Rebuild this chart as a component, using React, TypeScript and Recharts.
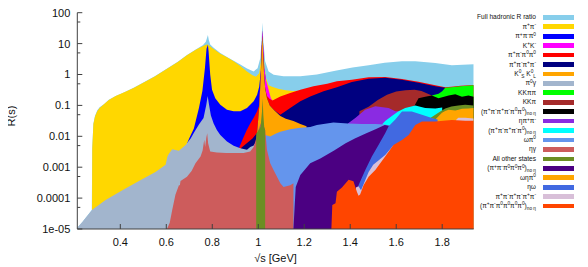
import React from 'react';
import { ComposedChart, Area, XAxis, YAxis } from 'recharts';

type Pt = [number, number];

// Cumulative top boundary of each contribution (sqrt(s) in GeV, R value)
const fullR: Pt[] = [
  [0.213, 1.1e-5], [0.235, 1.7e-5], [0.276, 4.1e-5], [0.278, 0.004], [0.283, 0.026], [0.29, 0.046],
  [0.3, 0.07], [0.31, 0.087], [0.33, 0.112], [0.35, 0.152], [0.38, 0.2], [0.42, 0.27], [0.46, 0.38],
  [0.5, 0.55], [0.55, 0.88], [0.6, 1.5], [0.65, 2.6], [0.69, 4.3], [0.73, 6.6], [0.76, 9], [0.772, 11.5],
  [0.778, 16], [0.781, 19], [0.785, 13], [0.791, 9.4], [0.806, 7.3], [0.835, 5.0], [0.864, 3.7],
  [0.893, 2.8], [0.922, 2.1], [0.951, 1.55], [0.98, 1.26], [0.997, 1.6], [1.009, 3.4], [1.014, 12],
  [1.018, 48], [1.022, 12], [1.03, 2.7], [1.045, 1.26], [1.067, 0.99], [1.11, 0.87], [1.183, 0.87],
  [1.255, 1.0], [1.335, 1.32], [1.41, 1.7], [1.48, 2.0], [1.55, 2.4], [1.625, 2.7], [1.683, 2.7],
  [1.77, 2.35], [1.842, 2.0], [1.937, 2.15],
];
const pipi: Pt[] = [
  [0.277, 4.1e-5], [0.278, 0.004], [0.283, 0.025], [0.29, 0.044], [0.3, 0.066], [0.31, 0.083],
  [0.33, 0.11], [0.35, 0.15], [0.38, 0.2], [0.42, 0.27], [0.46, 0.37], [0.5, 0.54], [0.55, 0.86],
  [0.6, 1.48], [0.65, 2.55], [0.69, 4.2], [0.73, 6.4], [0.76, 8.4], [0.772, 9.2], [0.78, 9.4],
  [0.786, 8.6], [0.8, 7.2], [0.835, 4.7], [0.864, 3.6], [0.893, 2.7], [0.922, 1.9], [0.951, 1.26],
  [0.975, 0.95], [0.99, 0.85], [1.004, 1.1], [1.011, 2.5], [1.016, 12], [1.019, 27], [1.021, 9.5],
  [1.026, 2.2], [1.034, 0.75], [1.045, 0.45], [1.06, 0.4], [1.09, 0.34], [1.12, 0.31], [1.15, 0.29],
  [1.17, 0.3],
];
const pi3: Pt[] = [
  [0.69, 0.0058], [0.7, 0.0087], [0.72, 0.018], [0.742, 0.083], [0.757, 0.29], [0.768, 1.6],
  [0.775, 6.8], [0.781, 9.2], [0.784, 5.6], [0.791, 1.0], [0.799, 0.32], [0.813, 0.17], [0.835, 0.105],
  [0.864, 0.072], [0.893, 0.065], [0.922, 0.065], [0.951, 0.083], [0.98, 0.135], [0.995, 0.22],
  [1.004, 0.4], [1.011, 1.2], [1.016, 12], [1.019, 27], [1.021, 9.5], [1.026, 1.6], [1.03, 1.0],
  [1.034, 0.62],
];
const kk: Pt[] = [
  [1.004, 0.12], [1.011, 1.0], [1.016, 12], [1.019, 27], [1.021, 9.5], [1.026, 1.6], [1.03, 1.0],
  [1.034, 0.62], [1.038, 0.5], [1.045, 0.32], [1.055, 0.17], [1.062, 0.145],
];
const pi2pi02: Pt[] = [
  [0.918, 0.0045], [0.935, 0.009], [0.95, 0.016], [0.965, 0.026], [0.98, 0.04], [0.995, 0.065],
  [1.004, 0.1], [1.011, 0.9], [1.016, 9], [1.019, 18], [1.021, 5], [1.026, 0.85], [1.03, 0.36],
  [1.038, 0.2], [1.05, 0.16], [1.062, 0.145], [1.096, 0.195], [1.139, 0.25], [1.183, 0.32],
  [1.24, 0.42], [1.3, 0.5], [1.342, 0.6], [1.407, 0.68], [1.48, 0.81], [1.552, 0.83], [1.625, 0.71],
  [1.697, 0.58], [1.77, 0.45], [1.813, 0.385], [1.84, 0.4], [1.88, 0.43], [1.937, 0.46],
];
const pi4: Pt[] = [
  [0.925, 0.0042], [0.95, 0.006], [0.975, 0.0085], [0.995, 0.013], [1.004, 0.085], [1.011, 0.9],
  [1.016, 9], [1.019, 18], [1.021, 5], [1.026, 0.85], [1.03, 0.36], [1.038, 0.17], [1.05, 0.1],
  [1.067, 0.072], [1.096, 0.05], [1.139, 0.083], [1.183, 0.135], [1.226, 0.195], [1.284, 0.285],
  [1.342, 0.385], [1.407, 0.575], [1.48, 0.73], [1.552, 0.78], [1.625, 0.68], [1.697, 0.54],
  [1.77, 0.42], [1.813, 0.37],
];
const kskl: Pt[] = [
  [0.995, 0.013], [1.004, 0.085], [1.011, 0.9], [1.016, 9], [1.019, 18], [1.021, 5], [1.026, 0.85],
  [1.03, 0.36], [1.038, 0.17], [1.05, 0.1], [1.067, 0.072], [1.096, 0.045], [1.12, 0.037],
  [1.153, 0.031], [1.183, 0.025], [1.21, 0.021],
];
const pi0gamma: Pt[] = [
  [0.213, 1.1e-5], [0.235, 1.7e-5], [0.278, 4.2e-5], [0.336, 8.7e-5], [0.409, 1.8e-4], [0.481, 3.6e-4],
  [0.553, 7e-4], [0.597, 1.2e-3], [0.605, 2.2e-3], [0.612, 2.8e-3], [0.626, 3.8e-3], [0.655, 3.4e-3],
  [0.684, 5.2e-3], [0.706, 8.5e-3], [0.72, 0.013], [0.742, 0.024], [0.762, 0.039], [0.774, 0.105],
  [0.78, 0.2], [0.786, 0.105], [0.794, 0.047], [0.806, 0.026], [0.82, 0.016], [0.835, 0.011],
  [0.864, 0.0068], [0.893, 0.0049], [0.922, 0.0041], [0.951, 0.0037], [0.965, 0.0045], [0.98, 0.005],
  [0.99, 0.0065],
];
const kkpipi: Pt[] = [
  [1.755, 0.21], [1.784, 0.24], [1.8, 0.285], [1.813, 0.37], [1.84, 0.39], [1.88, 0.42], [1.937, 0.45],
];
const kkpi: Pt[] = [
  [1.44, 0.065], [1.48, 0.09], [1.52, 0.15], [1.56, 0.22], [1.6, 0.28], [1.64, 0.31], [1.68, 0.32],
  [1.71, 0.29], [1.755, 0.21],
];
const pi6noEta: Pt[] = [
  [1.68, 0.1], [1.697, 0.17], [1.726, 0.19], [1.755, 0.21], [1.784, 0.17], [1.828, 0.21],
  [1.857, 0.23], [1.886, 0.19], [1.914, 0.21], [1.937, 0.19],
];
const etapipi: Pt[] = [
  [1.39, 0.026], [1.422, 0.039], [1.465, 0.072], [1.509, 0.093], [1.567, 0.083], [1.596, 0.065],
  [1.61, 0.065],
];
const pi5noEta: Pt[] = [
  [1.54, 0.025], [1.552, 0.031], [1.581, 0.045], [1.61, 0.065], [1.639, 0.083], [1.683, 0.1],
  [1.726, 0.083], [1.77, 0.08], [1.8, 0.085],
];
const omegapi0: Pt[] = [
  [1.03, 0.011], [1.052, 0.0098], [1.075, 0.012], [1.096, 0.014], [1.139, 0.017], [1.183, 0.019],
  [1.226, 0.02], [1.255, 0.023], [1.327, 0.028], [1.39, 0.026], [1.45, 0.025], [1.509, 0.025],
  [1.552, 0.024], [1.575, 0.022],
];
const etagamma: Pt[] = [
  [0.603, 1.0e-5], [0.615, 1.6e-5], [0.626, 4.2e-5], [0.64, 1.3e-4], [0.655, 2.6e-4], [0.659, 2.6e-4],
  [0.662, 3.6e-4], [0.69, 4.9e-4], [0.71, 7.5e-4], [0.727, 1.35e-3], [0.749, 2.2e-3], [0.758, 3.5e-3],
  [0.765, 7.8e-3], [0.769, 4.5e-3], [0.774, 9e-3], [0.778, 0.0126], [0.782, 0.006], [0.791, 3.2e-3],
  [0.82, 3.0e-3], [0.86, 2.9e-3], [0.9, 2.9e-3], [0.936, 2.9e-3], [0.965, 3.2e-3], [0.98, 4.5e-3],
  [0.99, 0.008], [1.0, 0.016], [1.009, 0.024], [1.016, 0.03], [1.022, 0.024], [1.03, 0.016],
  [1.038, 3.6e-3], [1.052, 1.35e-3], [1.067, 8e-4], [1.096, 3.0e-4], [1.11, 2.3e-4], [1.139, 2.6e-4],
  [1.153, 3.0e-4],
];
const otherPhi: Pt[] = [
  [0.991, 0.012], [1.0, 0.015], [1.01, 0.02], [1.016, 0.06], [1.019, 0.17], [1.022, 0.05],
  [1.026, 0.02], [1.03, 0.016],
];
const otherHigh: Pt[] = [
  [1.75, 0.04], [1.77, 0.05], [1.8, 0.07], [1.813, 0.08], [1.84, 0.092], [1.87, 0.1], [1.9, 0.105],
  [1.937, 0.1],
];
const pi5noEta3pi0: Pt[] = [
  [1.153, 1.0e-5], [1.158, 5e-5], [1.163, 2.3e-4], [1.183, 5.6e-4], [1.226, 1.35e-3], [1.27, 1.9e-3],
  [1.33, 3.5e-3], [1.38, 6e-3], [1.42, 8.5e-3], [1.465, 0.012], [1.51, 0.017], [1.55, 0.023],
  [1.58, 0.021],
];
const omegaetapi0: Pt[] = [
  [1.75, 0.04], [1.77, 0.035], [1.785, 0.045], [1.799, 0.058], [1.813, 0.066], [1.828, 0.072],
  [1.857, 0.068], [1.871, 0.072], [1.886, 0.078], [1.914, 0.08], [1.937, 0.082],
];
const etaomega: Pt[] = [
  [1.43, 1.3e-4], [1.436, 2.6e-4], [1.465, 8e-4], [1.494, 2.2e-3], [1.523, 5.2e-3], [1.552, 0.0126],
  [1.567, 0.021], [1.596, 0.035], [1.625, 0.063], [1.668, 0.063], [1.712, 0.05], [1.755, 0.039],
  [1.78, 0.035],
];
const sixPiLow: Pt[] = [
  [1.425, 2.2e-4], [1.436, 2.4e-4], [1.447, 1.8e-4], [1.458, 2.8e-4], [1.48, 7e-4], [1.5, 1.2e-3],
  [1.52, 1.6e-3], [1.552, 2.5e-3], [1.59, 5.3e-3],
];
const sixPiHigh: Pt[] = [[1.86, 0.034], [1.87, 0.04], [1.9, 0.04], [1.937, 0.038]];
const pi6noEta4pi0: Pt[] = [
  [1.318, 1.0e-5], [1.322, 6e-5], [1.336, 6.8e-5], [1.342, 1.6e-4], [1.364, 2.2e-4], [1.393, 3.9e-4],
  [1.414, 3.5e-4], [1.429, 1.6e-4], [1.436, 1.2e-4], [1.443, 1.3e-4], [1.458, 2.6e-4], [1.48, 4.9e-4],
  [1.509, 8.1e-4], [1.552, 2.2e-3], [1.588, 5.2e-3], [1.625, 7.6e-3], [1.654, 0.011], [1.683, 0.023],
  [1.712, 0.03], [1.77, 0.03], [1.842, 0.034], [1.9, 0.032], [1.937, 0.032],
];

const legendLabels = [
  'Full hadronic R ratio', 'π^+π^-', 'π^+π^-π^0', 'K^+K^-', 'π^+π^-π^0π^0', 'π^+π^-π^+π^-',
  'K^0_{S} K^0_{L}', 'π^0γ', 'KKππ', 'KKπ', '(π^+π^-π^+π^-π^0π^0)_{no η}', 'ηπ^+π^-',
  '(π^+π^-π^+π^-π^0)_{no η}', 'ωπ^0', 'ηγ', 'All other states', '(π^+π^-π^0π^0π^0)_{no η}',
  'ωηπ^0', 'ηω', 'π^+π^-π^+π^-π^+π^-', '(π^+π^-π^0π^0π^0π^0)_{no η}',
];
const legendColors = [
  '#87CEEB', '#FFD700', '#0000FF', '#FF00FF', '#FF0000', '#000080', '#FFA500', '#A2B5CD', '#00FF00',
  '#A52A2A', '#000000', '#8A2BE2', '#00FFFF', '#6495ED', '#CD5C5C', '#6B8E23', '#4B0082', '#FFA500',
  '#4169E1', '#D8BFD8', '#FF4500',
];

// draw order (back to front): [data, legend index]
const layers: [Pt[], number][] = [
  [fullR, 0], [pipi, 1], [pi3, 2], [kk, 3], [pi2pi02, 4], [pi4, 5], [kskl, 6], [pi0gamma, 7],
  [kkpipi, 8], [kkpi, 9], [pi6noEta, 10], [etapipi, 11], [pi5noEta, 12], [omegapi0, 13],
  [etagamma, 14], [otherPhi, 15], [otherHigh, 15], [pi5noEta3pi0, 16], [omegaetapi0, 17],
  [etaomega, 18], [sixPiLow, 19], [sixPiHigh, 19], [pi6noEta4pi0, 20],
];

const xTicks = [0.4, 0.6, 0.8, 1.0, 1.2, 1.4, 1.6, 1.8];
const xTickLabels = ['0.4', '0.6', '0.8', '1', '1.2', '1.4', '1.6', '1.8'];
const yMajorTicks = [1e-5, 1e-4, 1e-3, 0.01, 0.1, 1, 10, 100];
const yTickLabels = ['1e-05', '0.0001', '0.001', '0.01', '0.1', '1', '10', '100'];
const yMinorTicks = [5e-5, 5e-4, 5e-3, 0.05, 0.5, 5, 50];

const X_DOMAIN: [number, number] = [0.213, 1.937];
const Y_DOMAIN: [number, number] = [1e-5, 100];
const yTicks = [...yMajorTicks, ...yMinorTicks].sort((a, b) => a - b);
const AXIS = '#404040';
const TXT = '#111';

const majorIndex = (v: number) => yMajorTicks.findIndex((t) => Math.abs(t - v) / t < 1e-6);

const LeftTick = (p: any) => {
  const i = majorIndex(p.payload.value);
  return (
    <g>
      <line x1={p.x} x2={p.x + (i >= 0 ? 5 : 3)} y1={p.y} y2={p.y} stroke={AXIS} />
      {i >= 0 && (
        <text x={p.x - 7} y={p.y} dy="0.36em" textAnchor="end" fontSize={11} fill={TXT}>
          {yTickLabels[i]}
        </text>
      )}
    </g>
  );
};
const RightTick = (p: any) => {
  const i = majorIndex(p.payload.value);
  return <line x1={p.x} x2={p.x - (i >= 0 ? 5 : 3)} y1={p.y} y2={p.y} stroke={AXIS} />;
};
const BottomTick = (p: any) => {
  const i = xTicks.findIndex((t) => Math.abs(t - p.payload.value) < 1e-6);
  return (
    <g>
      <line x1={p.x} x2={p.x} y1={p.y} y2={p.y - 5} stroke={AXIS} />
      <text x={p.x} y={p.y + 16.6} textAnchor="middle" fontSize={11} fill={TXT}>
        {xTickLabels[i]}
      </text>
    </g>
  );
};
const TopTick = (p: any) => <line x1={p.x} x2={p.x} y1={p.y} y2={p.y + 5} stroke={AXIS} />;

const YTitle = () => (
  <text x={10.8} y={116} transform="rotate(-90 10.8 116)" textAnchor="middle" dominantBaseline="central" fontSize={11} fill={TXT}>
    R(s)
  </text>
);

function renderLabel(s: string) {
  const out: React.ReactNode[] = [];
  let buf = '';
  let k = 0;
  let i = 0;
  const flush = () => {
    if (buf) {
      out.push(<span key={k++}>{buf}</span>);
      buf = '';
    }
  };
  while (i < s.length) {
    const c = s[i];
    if (c === '^' || c === '_') {
      flush();
      let t = '';
      if (s[i + 1] === '{') {
        const j = s.indexOf('}', i + 2);
        t = s.slice(i + 2, j);
        i = j + 1;
      } else {
        t = s[i + 1];
        i += 2;
      }
      out.push(
        <span key={k++} style={{ fontSize: '0.72em', position: 'relative', top: c === '^' ? '-0.55em' : '0.35em' }}>
          {t}
        </span>
      );
    } else {
      buf += c;
      i++;
    }
  }
  flush();
  return out;
}

export default function App() {
  return (
    <div
      style={{
        position: 'relative',
        width: 588,
        height: 267,
        marginLeft: -8,
        marginTop: -8,
        background: '#fff',
        fontFamily: '"Liberation Sans", Arial, sans-serif',
      }}
    >
      <ComposedChart width={588} height={267} margin={{ top: 12.7, right: 114.3, bottom: 0, left: 0 }}>
        <XAxis
          xAxisId={0}
          type="number"
          dataKey="x"
          domain={X_DOMAIN}
          allowDataOverflow
          ticks={xTicks}
          interval={0}
          height={38}
          tickSize={0}
          tickMargin={0}
          tickLine={false}
          tick={BottomTick}
          axisLine={{ stroke: AXIS }}
          label={{ value: '√s [GeV]', position: 'insideBottom', offset: 5.3, fontSize: 11, fill: TXT }}
        />
        <XAxis
          xAxisId="top"
          orientation="top"
          type="number"
          dataKey="x"
          domain={X_DOMAIN}
          allowDataOverflow
          ticks={xTicks}
          interval={0}
          height={0}
          tickSize={0}
          tickMargin={0}
          tickLine={false}
          tick={TopTick}
          axisLine={{ stroke: AXIS }}
        />
        <YAxis
          yAxisId={0}
          type="number"
          scale="log"
          domain={Y_DOMAIN}
          allowDataOverflow
          ticks={yTicks}
          interval={0}
          width={77.3}
          tickSize={0}
          tickMargin={0}
          tickLine={false}
          tick={LeftTick}
          axisLine={{ stroke: AXIS }}
          label={YTitle}
        />
        <YAxis
          yAxisId="right"
          orientation="right"
          type="number"
          scale="log"
          domain={Y_DOMAIN}
          allowDataOverflow
          ticks={yTicks}
          interval={0}
          width={0}
          tickSize={0}
          tickMargin={0}
          tickLine={false}
          tick={RightTick}
          axisLine={{ stroke: AXIS }}
        />
        {layers.map(([pts, li], idx) => (
          <Area
            key={idx}
            data={pts.map(([x, y]) => ({ x, y }))}
            dataKey="y"
            xAxisId={0}
            yAxisId={0}
            type="linear"
            baseValue={1e-5}
            fill={legendColors[li]}
            fillOpacity={1}
            stroke="none"
            dot={false}
            activeDot={false}
            isAnimationActive={false}
          />
        ))}
      </ComposedChart>
      <div style={{ position: 'absolute', left: 0, top: 0, width: 588, height: 267, pointerEvents: 'none' }}>
        {legendLabels.map((lab, i) => {
          const cy = 17.3 + i * 9.44;
          return (
            <React.Fragment key={i}>
              <div
                style={{
                  position: 'absolute',
                  right: 588 - 536,
                  top: cy - 5,
                  height: 10,
                  lineHeight: '10px',
                  fontSize: 6.6,
                  whiteSpace: 'nowrap',
                  color: TXT,
                }}
              >
                {renderLabel(lab)}
              </div>
              <div
                style={{
                  position: 'absolute',
                  left: 542.7,
                  top: cy - 2.35,
                  width: 31.6,
                  height: 4.7,
                  background: legendColors[i],
                }}
              />
            </React.Fragment>
          );
        })}
      </div>
    </div>
  );
}
